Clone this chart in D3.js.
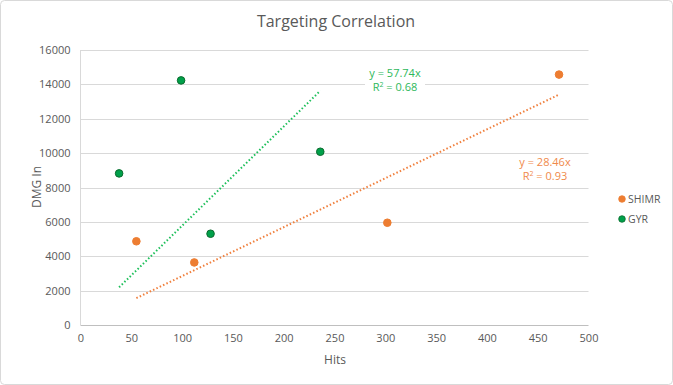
<!DOCTYPE html>
<html><head><meta charset="utf-8">
<script src="https://cdn.jsdelivr.net/npm/d3@7"></script>
<style>body{margin:0;background:#fff}svg{display:block;font-family:"Open Sans","Noto Sans",sans-serif}</style>
</head><body><svg id="c" width="673" height="385"></svg>
<script>
const seriesNames = ["SHIMR", "GYR"];
const shimrHits = [55, 112, 302, 471];
const shimrDmg = [4870, 3640, 5950, 14570];
const gyrHits = [38, 99, 128, 236];
const gyrDmg = [8820, 14230, 5310, 10080];
const slopes = [28.46, 57.74];
const r2 = ["0.93", "0.68"];
const xTicks = [0,50,100,150,200,250,300,350,400,450,500];
const yTicks = [0,2000,4000,6000,8000,10000,12000,14000,16000];
const colors = ["#ED7D31", "#00A04A"];
const strokes = ["#ED7D31", "#0B6B2E"];
const lineColors = ["#F07F3C", "#1DBF5A"];
const labelColors = ["#F08A4B", "#2DB85A"];

const svg = d3.select("#c");
svg.append("rect").attr("x",0.5).attr("y",0.5).attr("width",672).attr("height",384)
  .attr("rx",4).attr("fill","#fff").attr("stroke","#d9d9d9");

const x = d3.scaleLinear().domain([0,500]).range([80.5,588.5]);
const y = d3.scaleLinear().domain([0,16000]).range([325,50]);

svg.append("text").attr("x",336).attr("y",27).attr("text-anchor","middle")
  .attr("font-size",16).attr("fill","#595959").text("Targeting Correlation");

// gridlines
svg.append("g").selectAll("line").data(yTicks.filter(d=>d>0)).join("line")
  .attr("x1",x(0)).attr("x2",x(500)).attr("y1",d=>Math.round(y(d))+0.5).attr("y2",d=>Math.round(y(d))+0.5)
  .attr("stroke","#d9d9d9").attr("stroke-width",1);
// axes lines
svg.append("line").attr("x1",x(0)).attr("x2",x(0)).attr("y1",y(16000)).attr("y2",y(0)).attr("stroke","#d9d9d9");
svg.append("line").attr("x1",x(0)).attr("x2",x(500)).attr("y1",Math.round(y(0))+0.5).attr("y2",Math.round(y(0))+0.5).attr("stroke","#bfbfbf");

const yAxis = svg.append("g").attr("transform",`translate(${x(0)},0)`)
  .call(d3.axisLeft(y).tickValues(yTicks).tickFormat(d3.format("d")).tickSize(0).tickPadding(10));
const xAxis = svg.append("g").attr("transform",`translate(0,${y(0)})`)
  .call(d3.axisBottom(x).tickValues(xTicks).tickFormat(d3.format("d")).tickSize(0).tickPadding(9));
[xAxis,yAxis].forEach(a=>{a.select(".domain").remove();a.selectAll("text").attr("fill","#595959").attr("font-size",11).attr("font-family",'"Open Sans",sans-serif');});

svg.append("text").attr("x",335).attr("y",364).attr("text-anchor","middle").attr("font-size",12).attr("fill","#595959").text("Hits");
svg.append("text").attr("transform","translate(41,187) rotate(-90)").attr("text-anchor","middle").attr("font-size",12).attr("fill","#595959").text("DMG In");

const data = [
  {hits: shimrHits, dmg: shimrDmg},
  {hits: gyrHits, dmg: gyrDmg}
];

// trendlines
data.forEach((s,i)=>{
  const x0 = d3.min(s.hits), x1 = d3.max(s.hits);
  svg.append("line").attr("x1",x(x0)).attr("y1",y(slopes[i]*x0)).attr("x2",x(x1)).attr("y2",y(slopes[i]*x1))
    .attr("stroke",lineColors[i]).attr("stroke-width",2).attr("stroke-dasharray","1.5,2.2");
});

// trend labels
const labelPos = [[545,166],[395,77]];
data.forEach((s,i)=>{
  const [lx,ly] = labelPos[i];
  svg.append("rect").attr("x",lx-30).attr("y",ly-12).attr("width",60).attr("height",30).attr("fill","#fff");
  svg.append("text").attr("x",lx).attr("y",ly).attr("text-anchor","middle").attr("font-size",11)
    .attr("fill",labelColors[i]).text(`y = ${slopes[i]}x`);
  const t = svg.append("text").attr("x",lx).attr("y",ly+14).attr("text-anchor","middle").attr("font-size",11)
    .attr("fill",labelColors[i]);
  t.append("tspan").text("R");
  t.append("tspan").attr("dy",-4).attr("font-size",7).text("2");
  t.append("tspan").attr("dy",4).text(` = ${r2[i]}`);
});

// points
data.forEach((s,i)=>{
  svg.append("g").selectAll("circle").data(s.hits.map((h,j)=>[h,s.dmg[j]])).join("circle")
    .attr("cx",d=>x(d[0])).attr("cy",d=>y(d[1])).attr("r",3.8)
    .attr("fill",colors[i]).attr("stroke",strokes[i]).attr("stroke-width",1);
});

// legend
seriesNames.forEach((n,i)=>{
  const ly = 199 + i*20;
  svg.append("circle").attr("cx",622).attr("cy",ly).attr("r",3.3).attr("fill",colors[i]).attr("stroke",strokes[i]).attr("stroke-width",0.8);
  svg.append("text").attr("x",628).attr("y",ly+4).attr("font-size",10.5).attr("fill","#595959").text(n);
});
</script></body></html>
